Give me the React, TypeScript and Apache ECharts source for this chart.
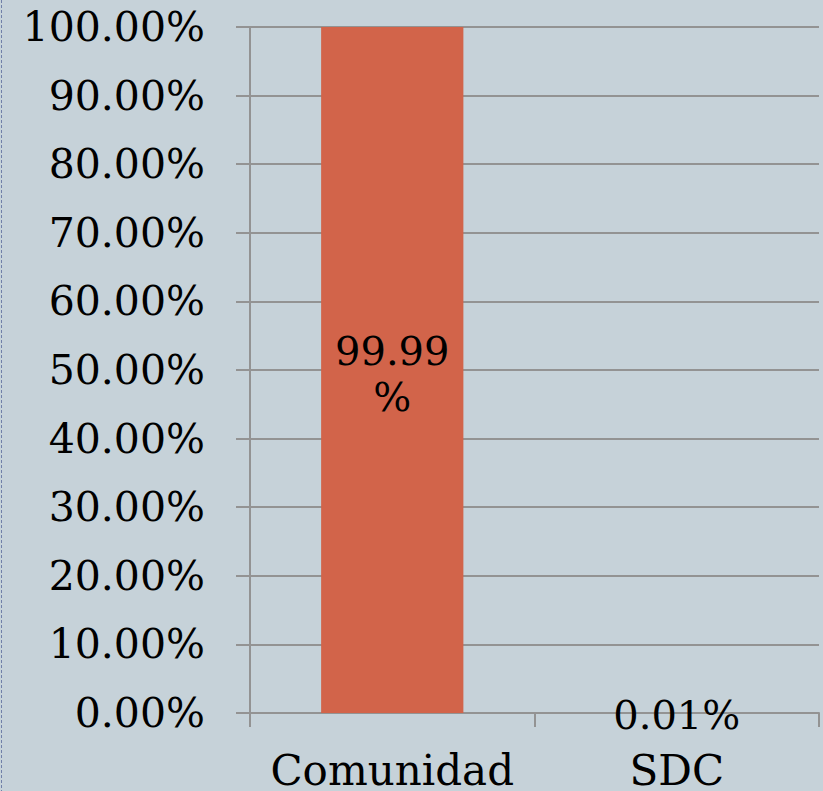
import React, { useEffect, useRef } from "react";
import * as echarts from "echarts";

const categories = ["Comunidad", "SDC"];
const shares = [0.9999, 0.0001];
const barLabels = ["99.99\n%", "0.01%"];
const yMin = 0;
const yMax = 1;
const yStep = 0.1;

export default function App() {
  const ref = useRef<HTMLDivElement>(null);
  useEffect(() => {
    if (!ref.current) return;
    const chart = echarts.init(ref.current, null, { renderer: "svg" });
    const font = "'DejaVu Serif', serif";
    chart.setOption({
      animation: false,
      backgroundColor: "#c6d2d9",
      grid: { left: 250, right: 4, top: 27, bottom: 77, containLabel: false },
      xAxis: {
        type: "category",
        data: categories,
        boundaryGap: true,
        axisLine: { show: true, lineStyle: { color: "#939393", width: 2 } },
        axisTick: { show: true, length: 14, alignWithLabel: false, interval: 0, lineStyle: { color: "#939393", width: 2 } },
        axisLabel: { color: "#000", fontFamily: font, fontSize: 42, margin: 36, interval: 0, hideOverlap: false },
      },
      yAxis: {
        type: "value",
        min: yMin,
        max: yMax,
        interval: yStep,
        axisLine: { show: true, lineStyle: { color: "#939393", width: 2 } },
        axisTick: { show: true, length: 14, lineStyle: { color: "#939393", width: 2 } },
        splitLine: { show: true, lineStyle: { color: "#939393", width: 2 } },
        axisLabel: {
          color: "#000",
          fontFamily: font,
          fontSize: 41,
          margin: 45,
          formatter: (v: number) => (v * 100).toFixed(2) + "%",
        },
      },
      series: [
        {
          type: "bar",
          barWidth: "50%",
          data: shares.map((v, i) => ({
            value: v,
            label: {
              show: true,
              position: "inside",
              offset: i === 0 ? [0, 4] : [0, 2],
              formatter: () => barLabels[i],
              color: "#000",
              fontFamily: font,
              fontSize: 40,
              lineHeight: 46,
              align: "center",
            },
          })),
          itemStyle: { color: "#d2644a" },
        },
      ],
      graphic: [
        {
          type: "line",
          shape: { x1: 1.5, y1: 0, x2: 1.5, y2: 791 },
          style: { stroke: "#7080a8", lineWidth: 1, lineDash: [3, 2] },
          z: 100,
        },
      ],
    });
    return () => chart.dispose();
  }, []);
  return (
    <div
      ref={ref}
      style={{ position: "fixed", left: 0, top: 0, width: 823, height: 791 }}
    />
  );
}
